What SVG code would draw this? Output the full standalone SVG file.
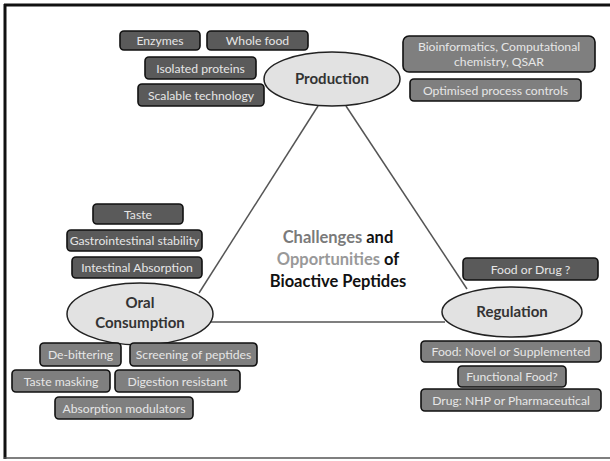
<svg xmlns="http://www.w3.org/2000/svg" width="610" height="461" viewBox="0 0 610 461">
<style>
.dk{fill:#5a5a5a;stroke:#111;stroke-width:1.6}
.md{fill:#7f7f7f;stroke:#111;stroke-width:1.6}
.bt{font-family:Lato,"Open Sans",sans-serif;font-size:12.2px;fill:#e6e6e6;text-anchor:middle}
.el{fill:#e2e2e2;stroke:#222;stroke-width:1.5}
.et{font-family:Lato,"Open Sans",sans-serif;font-size:15px;font-weight:bold;fill:#333;text-anchor:middle}
.ct{font-family:Lato,"Open Sans",sans-serif;font-size:16.5px;font-weight:bold;text-anchor:middle}
.ln{stroke:#555;stroke-width:1.5;fill:none}
</style>
<rect width="610" height="461" fill="#fff"/>
<g id="frame">
<line x1="4" y1="5" x2="610" y2="5" stroke="#111" stroke-width="3"/>
<line x1="5" y1="4" x2="5" y2="459" stroke="#111" stroke-width="3"/>
<line x1="4" y1="458" x2="610" y2="458" stroke="#555" stroke-width="1.5"/>
</g>
<g id="connectors">
<line class="ln" x1="318" y1="106" x2="199" y2="293"/>
<line class="ln" x1="346" y1="106" x2="467" y2="289"/>
<line class="ln" x1="210" y1="322" x2="445" y2="322"/>
</g>
<g id="center-title">
<text class="ct" x="338" y="243"><tspan fill="#7a7a7a">Challenges</tspan><tspan fill="#111"> and</tspan></text>
<text class="ct" x="338" y="265"><tspan fill="#999">Opportunities</tspan><tspan fill="#111"> of</tspan></text>
<text class="ct" x="338" y="287" fill="#111">Bioactive Peptides</text>
</g>
<g id="production">
<ellipse class="el" cx="332" cy="79" rx="68" ry="27"/>
<text class="et" x="332" y="84">Production</text>
</g>
<g id="enzymes"><rect class="dk" x="120" y="31" width="80" height="19" rx="4"/><text class="bt" x="160" y="45">Enzymes</text></g>
<g id="whole-food"><rect class="dk" x="207" y="31" width="101" height="19" rx="4"/><text class="bt" x="257.5" y="45">Whole food</text></g>
<g id="isolated-proteins"><rect class="dk" x="145" y="57" width="111" height="22" rx="4"/><text class="bt" x="200.5" y="72.5">Isolated proteins</text></g>
<g id="scalable-technology"><rect class="dk" x="138" y="84" width="126" height="22" rx="4"/><text class="bt" x="201" y="99.5">Scalable technology</text></g>
<g id="bioinformatics"><rect class="md" x="403" y="36" width="192" height="36" rx="6"/><text class="bt" x="499" y="51">Bioinformatics, Computational</text><text class="bt" x="499" y="66">chemistry, QSAR</text></g>
<g id="optimised"><rect class="md" x="410" y="79" width="171" height="22" rx="4"/><text class="bt" x="495.5" y="94.5">Optimised process controls</text></g>
<g id="oral-consumption">
<ellipse class="el" cx="140" cy="314" rx="73" ry="31"/>
<text class="et" x="140" y="308">Oral</text>
<text class="et" x="140" y="328">Consumption</text>
</g>
<g id="taste"><rect class="dk" x="93" y="204" width="90" height="20" rx="4"/><text class="bt" x="138" y="218.5">Taste</text></g>
<g id="gi-stability"><rect class="dk" x="67" y="230" width="135" height="21" rx="4"/><text class="bt" x="134.5" y="245">Gastrointestinal stability</text></g>
<g id="intestinal-absorption"><rect class="dk" x="72" y="257" width="130" height="21" rx="4"/><text class="bt" x="137" y="272">Intestinal Absorption</text></g>
<g id="de-bittering"><rect class="md" x="40" y="343" width="81" height="23" rx="4"/><text class="bt" x="80.5" y="359">De-bittering</text></g>
<g id="screening"><rect class="md" x="130" y="343" width="127" height="23" rx="4"/><text class="bt" x="193.5" y="359">Screening of peptides</text></g>
<g id="taste-masking"><rect class="md" x="12" y="370" width="98" height="22" rx="4"/><text class="bt" x="61" y="385.5">Taste masking</text></g>
<g id="digestion-resistant"><rect class="md" x="115" y="370" width="125" height="22" rx="4"/><text class="bt" x="177.5" y="385.5">Digestion resistant</text></g>
<g id="absorption-modulators"><rect class="md" x="55" y="397" width="138" height="22" rx="4"/><text class="bt" x="124" y="412.5">Absorption modulators</text></g>
<g id="regulation">
<ellipse class="el" cx="512" cy="312" rx="70" ry="25"/>
<text class="et" x="512" y="317">Regulation</text>
</g>
<g id="food-or-drug"><rect class="dk" x="463" y="258" width="135" height="22" rx="4"/><text class="bt" x="530.5" y="273.5">Food or Drug ?</text></g>
<g id="food-novel"><rect class="md" x="421" y="341" width="180" height="21" rx="4"/><text class="bt" x="511" y="356">Food: Novel or Supplemented</text></g>
<g id="functional-food"><rect class="md" x="458" y="366" width="108" height="21" rx="4"/><text class="bt" x="512" y="381">Functional Food?</text></g>
<g id="drug"><rect class="md" x="421" y="389" width="180" height="22" rx="4"/><text class="bt" x="511" y="404.5">Drug: NHP or Pharmaceutical</text></g>
</svg>
